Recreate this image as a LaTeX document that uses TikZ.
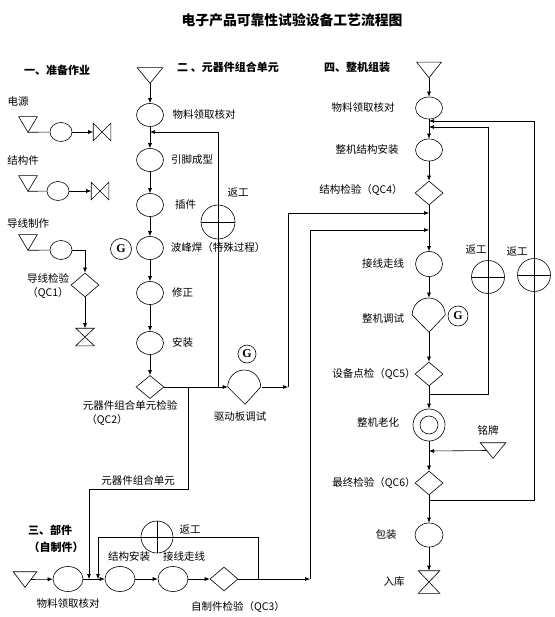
\documentclass[tikz,border=0pt]{standalone}
\usepackage{fontspec}
\setmainfont{Noto Sans CJK SC}
\newfontfamily\gfont{Liberation Serif}
\usetikzlibrary{arrows.meta,shapes.geometric,calc}

\tikzset{
  arr/.style={-{Latex[length=5pt,width=4pt]}},
  op/.style={draw, ellipse, inner sep=0pt, minimum width=27pt, minimum height=23pt},
  opsmall/.style={op, minimum width=22pt, minimum height=19pt},
  insp/.style={draw, diamond, inner sep=0pt, minimum width=28pt, minimum height=24pt},
  stor/.style={inner sep=0pt, minimum width=24pt, minimum height=15pt},
  bow/.style={inner sep=0pt, minimum width=18pt, minimum height=18pt},
  tear/.style={inner sep=0pt, minimum width=34pt, minimum height=34pt},
  fix/.style={draw, circle, inner sep=0pt, minimum size=33pt,
    path picture={\draw (path picture bounding box.north) -- (path picture bounding box.south)
      (path picture bounding box.west) -- (path picture bounding box.east);}},
  gmark/.style={draw, circle, inner sep=0pt, minimum size=20pt, font={\gfont\bfseries\fontsize{12}{14}\selectfont}},
  head/.style={font=\fontsize{11}{13}\selectfont\bfseries},
}

\begin{document}
\begin{tikzpicture}[x=1pt, y=1pt, line width=0.6pt, font=\fontsize{10.5}{12.6}\selectfont]
\useasboundingbox (0,0) rectangle (554,-617);

\node[font=\fontsize{13.8}{16}\selectfont\bfseries] (title) at (292,-20) {电子产品可靠性试验设备工艺流程图};

% 一、准备作业
\node[head] (h1) at (57,-70) {一、准备作业};
\node (l11) at (18,-102) {电源};
\node[stor, minimum width=18pt] (s11) at (28,-124.5) {};
\node[opsmall] (o11) at (61,-132) {};
\node[bow, minimum width=17pt, minimum height=17pt] (b11) at (102,-132) {};
\draw (s11.south) -- (o11);
\draw[arr] (o11) -- (b11.west);

\node (l12) at (23,-161) {结构件};
\node[stor, minimum width=18pt] (s12) at (28,-183.5) {};
\node[opsmall] (o12) at (58,-191) {};
\node[bow, minimum width=17pt, minimum height=17pt] (b12) at (100,-191) {};
\draw (s12.south) -- (o12);
\draw[arr] (o12) -- (b12.west);

\node (l13) at (28,-223) {导线制作};
\node[stor, minimum width=18pt] (s13) at (28,-242.5) {};
\node[opsmall] (o13) at (61,-250) {};
\node[insp] (d1) at (85,-285) {};
\node (ld1) at (48,-278) {导线检验};
\node (ld1b) at (48,-293) {（QC1）};
\node[bow, minimum height=17pt] (b13) at (85,-337) {};
\draw (s13.south) -- (o13);
\draw[arr] (o13) -| (d1);
\draw[arr] (d1) -- (b13);

% 二、元器件组合单元
\node[head] (h2) at (228,-67) {二 、元器件组合单元};
\node[stor, minimum width=25pt] (s2) at (150,-75.5) {};
\node[op] (m1) at (150,-115) {};
\node[op] (m2) at (150,-160) {};
\node[op] (m3) at (150,-205) {};
\node[op] (m4) at (150,-248) {};
\node[op] (m5) at (150,-293) {};
\node[op] (m6) at (150,-343) {};
\node[insp, minimum height=23pt] (dq2) at (150,-387) {};
\node (lm1) at (204,-115) {物料领取核对};
\node (lm2) at (192,-160) {引脚成型};
\node (lm3) at (185.5,-205) {插件};
\node (lm4) at (218,-248) {波峰焊（特殊过程）};
\node (lm5) at (182.5,-293) {修正};
\node (lm6) at (182.5,-343) {安装};
\node (lq2) at (130,-405) {元器件组合单元检验};
\node (lq2b) at (107,-420) {（QC2）};
\node[gmark, minimum size=21pt] (g1) at (121,-249) {G};
\draw[arr] (s2.south) -- (m1);
\draw[arr] (m1) -- (m2);
\draw[arr] (m2) -- (m3);
\draw[arr] (m3) -- (m4);
\draw[arr] (m4) -- (m5);
\draw[arr] (m5) -- (m6);
\draw[arr] (m6) -- (dq2);

% 返工 and 驱动板调试
\node[fix, minimum size=34pt] (r1) at (218,-222) {};
\node (lr1) at (238,-193) {返工};
\node[tear] (dv) at (245,-387) {};
\node[gmark, minimum size=18pt] (g2) at (247,-354) {G};
\node (ldv) at (240,-417) {驱动板调试};
\coordinate (j1) at (150,-132);
\coordinate (k1) at (218,-387);
\coordinate (k2) at (288,-387);
\coordinate (k3) at (188,-387);
\draw[arr] (dq2) -- (dv.west);
\draw (k1) -- (r1);
\draw[arr] (r1) |- (j1);
\draw[arr] (dv.east) -- (k2);
\node (lunit) at (138,-480) {元器件组合单元};

% 三、部件（自制件）
\node[head] (h3) at (50,-530) {三、部件};
\node[head] (h3b) at (56,-547) {（自制件）};
\node[stor, minimum width=23pt] (s3) at (25,-579.5) {};
\node[op, minimum width=30pt, minimum height=25pt] (p1) at (68,-579) {};
\node[op, minimum width=30pt, minimum height=25pt] (p2) at (120,-579) {};
\node[op, minimum width=30pt, minimum height=25pt] (p3) at (173,-579) {};
\node[insp] (dq3) at (224,-579) {};
\node[fix, minimum size=32pt] (r3) at (157,-537) {};
\node (lp1) at (68,-604) {物料领取核对};
\node (lp2) at (129,-557) {结构安装};
\node (lp3) at (184,-557) {接线走线};
\node (lq3) at (238,-607) {自制件检验（QC3）};
\node (lr3) at (190,-530) {返工};
\coordinate (j5) at (89,-579);
\coordinate (j7) at (98,-579);
\coordinate (k4) at (258,-579);
\coordinate (k5) at (310,-579);
\draw[arr] (k3) -- ++(0,-102) -| (j5);
\draw[arr] ($(s3)+(6,0)$) -- (p1);
\draw[arr] (p1) -- (p2);
\draw[arr] (p2) -- (p3);
\draw[arr] (p3) -- (dq3);
\draw[arr] (dq3) -- (k5);
\draw (k4) |- (r3);
\draw[arr] (r3) -| (j7);

% 四、整机组装
\node[head] (h4) at (357,-67) {四、整机组装};
\node[stor] (s4) at (429,-70) {};
\node[op, minimum height=22pt] (w1) at (429,-108) {};
\node[op, minimum height=22pt] (w2) at (429,-150) {};
\node[insp] (dq4) at (429,-193) {};
\node[op, minimum height=25pt] (w3) at (429,-264) {};
\node[tear, minimum width=33pt] (tu) at (429,-315) {};
\node[gmark] (g3) at (458,-316) {G};
\node[insp] (dq5) at (429,-374) {};
\node[draw, circle, inner sep=0pt, minimum size=32pt] (ag) at (429,-425) {};
\node[insp] (dq6) at (429,-483) {};
\node[op, minimum width=28pt, minimum height=24pt] (w4) at (429,-535) {};
\node[bow, minimum width=21pt, minimum height=22pt] (b4) at (429,-582) {};
\node[stor, minimum width=25pt] (s5) at (493,-450.5) {};
\node[fix] (rw1) at (488,-277) {};
\node[fix] (rw2) at (534,-275) {};
\node (lw1) at (363,-108) {物料领取核对};
\node (lw2) at (367,-150) {整机结构安装};
\node (lq4) at (361,-190) {结构检验（QC4）};
\node (lw3) at (383,-264) {接线走线};
\node (ltu) at (383,-319) {整机调试};
\node (lq5) at (374,-374) {设备点检（QC5）};
\node (lag) at (378,-423) {整机老化};
\node (ls5) at (488,-431) {铭牌};
\node (lq6) at (374,-483) {最终检验（QC6）};
\node (lw4) at (386,-535) {包装};
\node (lb4) at (394,-582) {入库};
\node (lrw1) at (476,-250) {返工};
\node (lrw2) at (517,-252) {返工};
\draw (ag) circle (9pt);
\coordinate (j4) at (429,-213);
\coordinate (j6) at (429,-230);
\coordinate (j8) at (429,-127);
\coordinate (j9) at (429,-121);
\coordinate (j10) at (429,-451);
\coordinate (k6) at (429,-394);
\coordinate (k7) at (429,-500);
\draw[arr] (s4.south) -- (w1);
\draw[arr] (w1) -- (w2);
\draw[arr] (w2) -- (dq4);
\draw[arr] (dq4) -- (w3);
\draw[arr] (w3) -- (tu.north);
\draw[arr] (tu.south) -- (dq5);
\draw[arr] (dq5) -- (ag);
\draw[arr] (ag) -- (dq6);
\draw[arr] (dq6) -- (w4);
\draw[arr] (w4) -- (b4);
\draw[arr] (k2) |- (j4);
\draw[arr] (k5) |- (j6);
\draw (k6) -| (rw1);
\draw[arr] (rw1) |- (j8);
\draw (k7) -| (rw2);
\draw[arr] (rw2) |- (j9);
\draw[arr] ($(s5)+(-6,0)$) -- (j10);

% symbols without a ready shape
\foreach \n in {s11,s12,s13,s2,s3,s4,s5}
  \draw (\n.north west) -- (\n.north east) -- (\n.south) -- cycle;
\foreach \n in {b11,b12}
  \draw (\n.north west) -- (\n.south east) -- (\n.north east) -- (\n.south west) -- cycle;
\foreach \n in {b13,b4}
  \draw (\n.north west) -- (\n.north east) -- (\n.south west) -- (\n.south east) -- cycle;
\foreach \n in {dv,tu}
  \draw (\n.west) arc[start angle=180, end angle=0, x radius=16.5pt, y radius=17pt] -- (\n.south) -- cycle;
\end{tikzpicture}
\end{document}
